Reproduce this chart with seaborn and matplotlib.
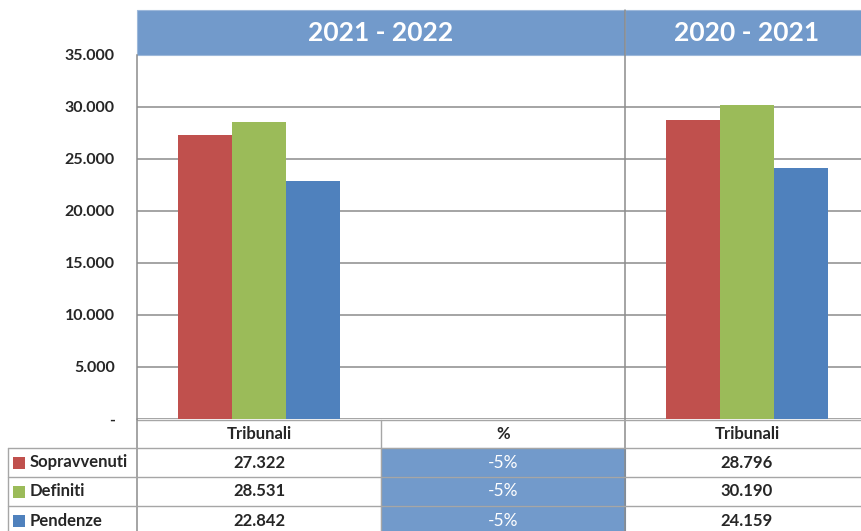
import pandas as pd
import matplotlib.pyplot as plt
import matplotlib.transforms as mtransforms
from matplotlib.patches import Rectangle
import seaborn as sns

# Data
periods = ['2021 - 2022', '2020 - 2021']
columns = ['Tribunali', '%', 'Tribunali']
series = ['Sopravvenuti', 'Definiti', 'Pendenze']
vals_2122 = [27322, 28531, 22842]
vals_2021 = [28796, 30190, 24159]
pct_change = ['-5%', '-5%', '-5%']
colors = ['#C0504D', '#9BBB59', '#4F81BD']
yticks = [0, 5000, 10000, 15000, 20000, 25000, 30000, 35000]

header_blue = '#729ACB'
grid_gray = '#8C8C8C'
line_gray = '#A6A6A6'

# long-form table for seaborn; middle column ("%") has no bars
keys = ['c0', 'c1', 'c2']
rows = []
for s, v in zip(series, vals_2122):
    rows.append({'col': 'c0', 'series': s, 'value': v})
for s, v in zip(series, vals_2021):
    rows.append({'col': 'c2', 'series': s, 'value': v})
df = pd.DataFrame(rows)

sns.set_style('white')
plt.rcParams['font.family'] = ['Lato', 'DejaVu Sans']

W, H = 861, 531
fig = plt.figure(figsize=(W / 100, H / 100), dpi=100)
ax = fig.add_axes([137 / W, 1 - 419 / H, 732 / W, 364 / H])

sns.barplot(data=df, x='col', y='value', hue='series', order=keys,
            hue_order=series, palette=colors, width=0.664, gap=0,
            saturation=1, legend=False, linewidth=0, ax=ax)

ax.set_xlim(-0.5, 2.5)
ax.set_ylim(0, 35000)
ax.set_yticks(yticks)
ax.set_yticklabels(['-' if v == 0 else f'{v:,}'.replace(',', '.') for v in yticks],
                   fontsize=11.5, fontweight='bold')
ax.tick_params(axis='y', length=0, pad=16)
ax.set_xticks([])
ax.set_xlabel('')
ax.set_ylabel('')
ax.yaxis.grid(True, color=grid_gray, linewidth=1.1)
ax.set_axisbelow(True)
for side in ['top', 'right', 'bottom']:
    ax.spines[side].set_visible(False)
ax.spines['left'].set_color(grid_gray)
ax.spines['left'].set_linewidth(1.1)

# pixel transform (origin top-left) and blended data-x / pixel-y
pix = mtransforms.Affine2D().scale(1 / W, -1 / H).translate(0, 1) + fig.transFigure
bx = mtransforms.blended_transform_factory(ax.transData, pix)

# header band with period titles
spans = [(-0.5, 1.5), (1.5, 2.5)]
for (x0, x1), label in zip(spans, periods):
    ax.add_patch(Rectangle((x0, 10), x1 - x0, 45, transform=bx, facecolor=header_blue,
                           edgecolor='#9DB8DA', linewidth=0.8, clip_on=False))
    ax.text((x0 + x1) / 2, 33, label, transform=bx, ha='center', va='center',
            color='white', fontsize=19, fontweight='bold', clip_on=False)

# divider between periods through the plot
ax.plot([1.5, 1.5], [10, 535], transform=bx, color=grid_gray, linewidth=1.1, clip_on=False)

# data table under the chart
row_top = [420, 448, 477, 506]
row_bot = [448, 477, 506, 535]
for i, name in enumerate(columns):
    ax.text(i, (row_top[0] + row_bot[0]) / 2, name, transform=bx, ha='center',
            va='center', fontsize=12, fontweight='bold', clip_on=False)

col_vals = [vals_2122, pct_change, vals_2021]
for r in range(len(series)):
    yt, yb = row_top[r + 1], row_bot[r + 1]
    ym = (yt + yb) / 2
    for i, vals in enumerate(col_vals):
        if i == 1:
            ax.add_patch(Rectangle((i - 0.5, yt), 1, yb - yt, transform=bx,
                                   facecolor=header_blue, edgecolor='#5F88BC',
                                   linewidth=0.8, clip_on=False))
            ax.text(i, ym, vals[r], transform=bx, ha='center', va='center',
                    color='white', fontsize=12.5, clip_on=False)
        else:
            ax.text(i, ym, f'{vals[r]:,}'.replace(',', '.'), transform=bx,
                    ha='center', va='center', fontsize=12, fontweight='bold',
                    clip_on=False)
    # legend key + series name in left column
    fig.patches.append(Rectangle((13, ym - 6), 12, 12, transform=pix,
                                 facecolor=colors[r], edgecolor='none'))
    fig.text(30 / W, 1 - ym / H, series[r], ha='left', va='center',
             fontsize=12, fontweight='bold')

# table grid lines
for y in row_top:
    ax.plot([-0.5, 2.5], [y, y], transform=bx, color=line_gray, linewidth=1, clip_on=False)
for y in row_top[1:]:
    fig.add_artist(plt.Line2D([8, 137], [y, y], transform=pix, color=line_gray, linewidth=1))
fig.add_artist(plt.Line2D([8, 8], [448, 535], transform=pix, color=line_gray, linewidth=1))
ax.plot([-0.5, -0.5], [419, 535], transform=bx, color=grid_gray, linewidth=1.1, clip_on=False)
ax.plot([0.5, 0.5], [420, 535], transform=bx, color=line_gray, linewidth=1, clip_on=False)

fig.savefig('out.png', dpi=100)
plt.close()
